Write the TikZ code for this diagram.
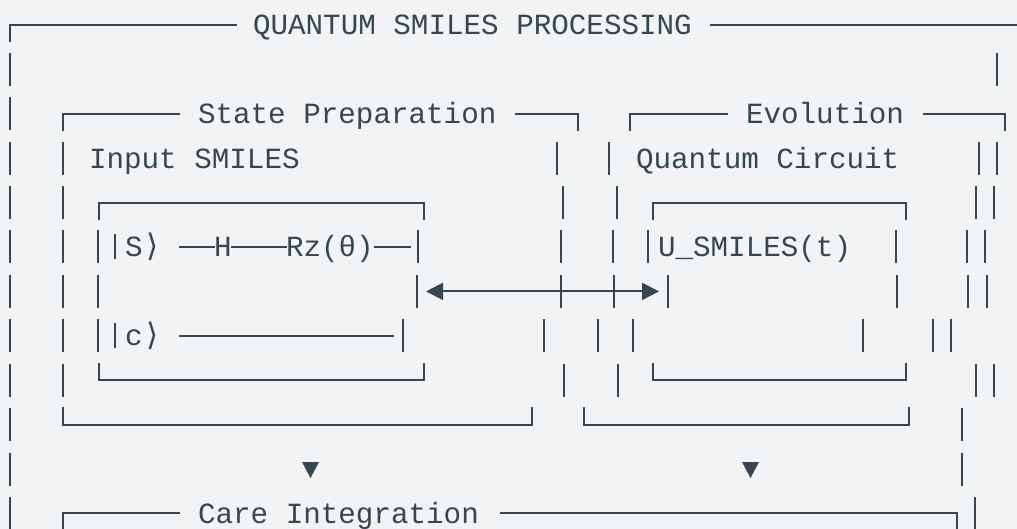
\documentclass[tikz,border=0pt]{standalone}
\usepackage{fontspec}
\newfontfamily\artfont{Liberation Mono}
\newfontfamily\symfont{DejaVu Sans}
\usetikzlibrary{arrows.meta}
\definecolor{bg}{HTML}{F1F3F5}
\definecolor{ink}{HTML}{37474F}
\begin{document}
\begin{tikzpicture}[x=1pt,y=-1pt,
  lbl/.style={anchor=base west, inner sep=0pt, outer sep=0pt, text=ink,
    font=\artfont\fontsize{29.25}{35}\selectfont},
  ang/.style={anchor=base west, inner sep=0pt, outer sep=0pt, text=ink,
    font=\symfont\fontsize{31}{36}\selectfont},
  boxl/.style={draw=ink, line width=2pt},
  barl/.style={draw=ink, line width=2pt},
  conn/.style={draw=ink, line width=2pt,
    {Triangle[length=17pt,width=17pt]}-{Triangle[length=17pt,width=17pt]}},
  tri/.style={fill=ink}
]
\fill[bg] (0,0) rectangle (1017,529);
\useasboundingbox (0,0) rectangle (1017,529);

% ---- texts
\node[lbl] (title) at (253,35) {QUANTUM SMILES PROCESSING};
\node[lbl] (sp) at (198,123.8) {State Preparation};
\node[lbl] (evo) at (746,123.8) {Evolution};
\node[lbl] (inp) at (89,168.2) {Input SMILES};
\node[lbl] (qc) at (636,168.2) {Quantum Circuit};
\node[lbl] (ketS) at (125,257) {S};
\node[ang] (angS) at (146,257) {⟩};
\node[lbl] (gH) at (214,257) {H};
\node[lbl] (gRz) at (286,257) {Rz(θ)};
\node[lbl] (ug) at (658,257) {U\_SMILES(t)};
\node[lbl] (ketc) at (125,345.8) {c};
\node[ang] (angc) at (146,345.8) {⟩};
\node[lbl] (care) at (198,523.4) {Care Integration};

% ---- box-drawing lines
\draw[boxl] (10,42) |- (237,25);
\draw[boxl] (710,25) -- (1017,25);
\draw[boxl] (63,131) |- (180,113.8);
\draw[boxl] (515,113.8) -| (578,131);
\draw[boxl] (630,131) |- (728,113.8);
\draw[boxl] (923,113.8) -| (1005,131);
\draw[boxl] (99,220) |- (424,202.6) -- (424,220);
\draw[boxl] (653,220) |- (906,202.6) -- (906,220);
\draw[boxl] (179,247) -- (215,247);
\draw[boxl] (231,247) -- (287,247);
\draw[boxl] (374,247) -- (411,247);
\draw[boxl] (179,335.8) -- (394,335.8);
\draw[boxl] (99,363) |- (424,380.2) -- (424,363);
\draw[boxl] (653,363) |- (906,380.2) -- (906,363);
\draw[boxl] (63,407) |- (532,424.6) -- (532,407);
\draw[boxl] (584,407) |- (909,424.6) -- (909,407);
\draw[boxl] (63,531) |- (180,513.4);
\draw[boxl] (500,513.4) -| (957,531);

% ---- vertical bars
\foreach \x/\y in {10/69.4, 997/69.4,
  10/113.8,
  10/158.2, 63/158.2, 557/158.2, 609/158.2, 979/158.2, 997/158.2,
  10/202.6, 63/202.6, 563/202.6, 617/202.6, 976/202.6, 994/202.6,
  10/247, 63/247, 98/247, 418/247, 561/247, 613/247, 648/247, 896/247, 967/247, 985/247,
  10/291.4, 63/291.4, 98/291.4, 417/291.4, 561/291.4, 614/291.4, 668/291.4, 897/291.4, 968/291.4, 987/291.4,
  10/335.8, 63/335.8, 98/335.8, 403/335.8, 544/335.8, 598/335.8, 633/335.8, 863/335.8, 933/335.8, 951/335.8,
  10/380.2, 63/380.2, 564/380.2, 618/380.2, 976/380.2, 994/380.2,
  10/424.6, 962/424.6,
  10/469, 962/469,
  10/513.4, 975/513.4}
  \draw[barl] (\x,\y-16.5) -- (\x,\y+16.5);
% ket bars
\draw[barl] (115,234) -- (115,259);
\draw[barl] (115,322.8) -- (115,347.8);

% ---- bidirectional connector
\coordinate (lp) at (426,291.4);
\coordinate (rp) at (659,291.4);
\draw[conn] (lp) -- (rp);

% ---- down arrows
\fill[tri] (302,462) -- (319,462) -- (310.5,478) -- cycle;
\fill[tri] (742,462) -- (759,462) -- (750.5,478) -- cycle;
\end{tikzpicture}
\end{document}
